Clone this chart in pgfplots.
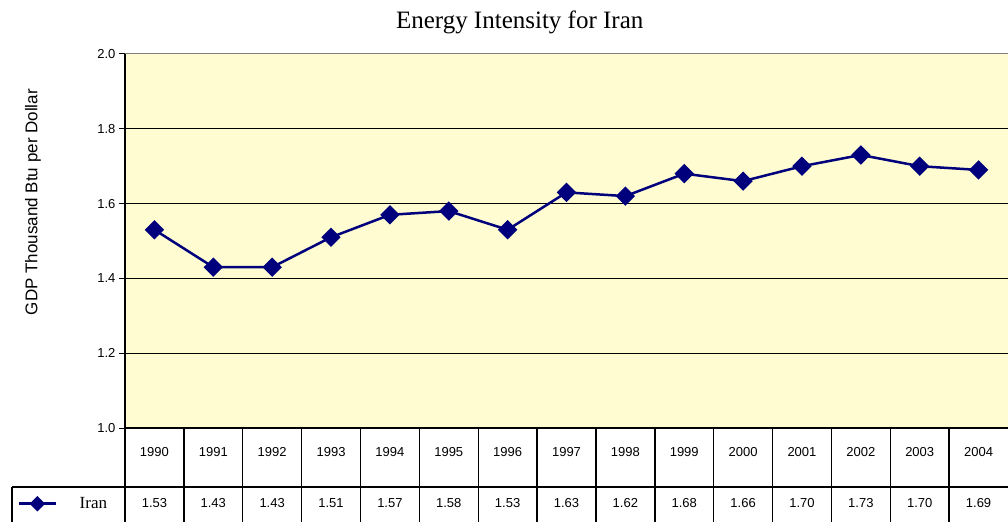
\documentclass[border=0pt]{standalone}
\usepackage{fontspec}
\setmainfont{Liberation Sans}
\newfontfamily\serif{Liberation Serif}
\usepackage{pgfplots}
\pgfplotsset{compat=1.18}
\usepackage{pgfplotstable}

\definecolor{chartbg}{RGB}{254,252,208}
\definecolor{navyline}{RGB}{0,0,125}

% Energy intensity of Iran, 1990-2004
\pgfplotstableread{
x year v
0  1990 1.53
1  1991 1.43
2  1992 1.43
3  1993 1.51
4  1994 1.57
5  1995 1.58
6  1996 1.53
7  1997 1.63
8  1998 1.62
9  1999 1.68
10 2000 1.66
11 2001 1.70
12 2002 1.73
13 2003 1.70
14 2004 1.69
}\iran

\begin{document}
\begin{tikzpicture}
\useasboundingbox (0pt,0pt) rectangle (1008pt,522pt);
\begin{axis}[
  at={(125pt,94pt)}, anchor=south west,
  width=883pt, height=374pt, scale only axis,
  xmin=-0.5, xmax=14.5, ymin=1, ymax=2,
  clip=false,
  axis lines*=left,
  axis line style={black, line width=1.3pt},
  axis background/.style={fill=chartbg},
  ytick={1.0,1.2,1.4,1.6,1.8},
  extra y ticks={2.0},
  extra y tick style={grid=none},
  ymajorgrids,
  major grid style={black, line width=1.1pt},
  yticklabel style={/pgf/number format/.cd, fixed, fixed zerofill, precision=1, assume math mode=true},
  ytick style={black, line width=1pt},
  major tick length=6pt,
  tick align=outside,
  tick label style={font=\fontsize{13}{13}\selectfont},
  xtick=data,
  xticklabels from table={\iran}{year},
  xtick style={draw=none},
  xticklabel style={anchor=center, yshift=-18pt},
  title={Energy Intensity for Iran},
  title style={at={(rel axis cs:0.447,1.068)}, anchor=center, font=\serif\fontsize{25}{28}\selectfont},
  ylabel={GDP Thousand Btu per Dollar},
  ylabel style={at={(rel axis cs:-0.1042,0.604)}, anchor=center, font=\fontsize{17}{17}\selectfont},
  legend style={at={(axis cs:-2.318,0.7975)}, anchor=west, draw=none, fill=none,
    inner sep=0pt, nodes={inner sep=0pt}, font=\serif\fontsize{17}{17}\selectfont,
    /tikz/every odd column/.append style={column sep=22pt}},
  legend image code/.code={\draw[mark repeat=2, mark phase=2, #1, mark size=4.2pt] plot coordinates {(0pt,0pt) (18pt,0pt) (37pt,0pt)};},
]
% top border of the plot area
\draw[gray, line width=1pt] (rel axis cs:0,1) -- (rel axis cs:1,1);

\addplot[navyline, line width=2.5pt, mark=square*, mark size=5.6pt,
  mark options={rotate=45, solid, fill=navyline}]
  table[x=x, y=v] {\iran};
\addlegendentry{Iran}

% value row of the data table
\addplot[draw=none, mark=none, point meta=explicit,
  nodes near coords={\pgfmathprintnumber[fixed, fixed zerofill, precision=2]{\pgfplotspointmeta}},
  nodes near coords align=center,
  every node near coord/.append style={font=\fontsize{13}{13}\selectfont, text=black,
    /pgf/number format/assume math mode=true}]
  table[x=x, y expr=0.7995, meta=v] {\iran};

% grid of the data table
\pgfplotsinvokeforeach{-0.5,0.5,...,13.5}{
  \draw[black, line width=1.4pt] (axis cs:#1,1) -- (axis cs:#1,0.7487);
}
\draw[black, line width=1.4pt] (axis cs:-2.4196,0.8422) -- (axis cs:14.5,0.8422);
\draw[black, line width=1.4pt] (axis cs:-2.4196,0.8422) -- (axis cs:-2.4196,0.7487);
\end{axis}
\end{tikzpicture}
\end{document}
